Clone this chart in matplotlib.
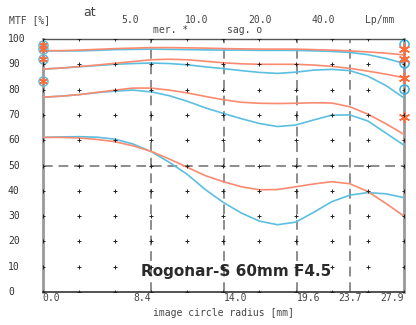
import matplotlib
matplotlib.use("Agg")
import matplotlib.pyplot as plt
import numpy as np

# image circle radius [mm]
radius = [0.0, 1.395, 2.79, 4.185, 5.58, 6.975, 8.37, 9.765, 11.16, 12.555, 13.95,
          15.345, 16.74, 18.135, 19.53, 20.925, 22.32, 23.715, 25.11, 26.505, 27.9]

# sagittal (orange) / meridional (cyan), 5 / 10 / 20 / 40 lp/mm
sag_5 = [95.4, 95.4, 95.6, 95.9, 96.2, 96.4, 96.6, 96.6, 96.5, 96.4, 96.2,
         96.1, 96.0, 96.0, 96.0, 95.8, 95.6, 95.3, 94.9, 94.4, 93.7]
mer_5 = [95.3, 95.3, 95.3, 95.5, 95.8, 95.9, 96.0, 95.9, 95.8, 95.7, 95.6,
         95.6, 95.5, 95.5, 95.5, 95.3, 95.1, 94.7, 93.8, 92.3, 90.4]
sag_10 = [88.1, 88.5, 89.1, 89.7, 90.4, 91.1, 91.8, 92.0, 91.8, 91.2, 90.6,
          90.2, 90.0, 90.0, 90.0, 89.7, 89.2, 88.4, 87.3, 86.1, 84.7]
mer_10 = [88.1, 88.5, 89.0, 89.5, 90.0, 90.3, 90.5, 90.3, 89.8, 89.0, 88.3,
          87.5, 86.8, 86.4, 86.9, 87.7, 88.0, 87.5, 85.3, 81.6, 76.7]
sag_20 = [77.0, 77.4, 78.0, 78.9, 79.8, 80.6, 80.6, 79.8, 78.7, 77.3, 76.0,
          75.0, 74.6, 74.5, 74.6, 74.8, 74.7, 73.2, 70.3, 66.5, 62.3]
mer_20 = [77.0, 77.4, 78.0, 78.8, 79.4, 79.8, 79.1, 77.6, 75.4, 72.8, 70.6,
          68.5, 66.6, 65.4, 66.0, 68.0, 69.9, 70.0, 67.6, 62.8, 58.0]
sag_40 = [61.1, 61.1, 60.9, 60.3, 59.4, 57.8, 55.6, 52.6, 49.3, 46.0, 43.6,
          41.6, 40.4, 40.5, 41.6, 42.7, 43.6, 42.8, 39.7, 35.0, 30.0]
mer_40 = [61.1, 61.3, 61.4, 61.2, 60.4, 58.5, 55.5, 51.3, 46.5, 40.5, 35.4,
          31.2, 28.0, 26.6, 27.6, 31.5, 35.7, 38.3, 39.3, 38.8, 37.3]

# markers on the edges
left_marks = [97.6, 96.0, 92.0, 83.5]
right_circles = [98.0, 90.5, 80.3]
right_stars = [96.2, 92.2, 84.6, 69.2]

special_r = [8.4, 14.0, 19.6, 23.7]
xlabels = ["0.0", "8.4", "14.0", "19.6", "23.7", "27.9"]
xlabel_pos = [0.0, 8.4, 14.0, 19.6, 23.7, 27.9]
ylabels = ["100", "90", "80", "70", "60", "50", "40", "30", "20", "10", "0"]

orange = "#fa8a70"
cyan = "#5cbfe0"
gray = "#8c8c8c"
mono = "DejaVu Sans Mono"

fig = plt.figure(figsize=(4.16, 3.25), dpi=100)
ax = fig.add_axes([0.1026, 0.1015, 0.8686, 0.7785])
ax.set_xlim(0, 27.9)
ax.set_ylim(0, 100)

# + marks on the grid
gx, gy = np.meshgrid(np.linspace(0, 27.9, 11), np.arange(0, 101, 10))
ax.plot(gx.ravel(), gy.ravel(), '+', color='#222222', ms=3, mew=0.7, zorder=7)

for r in special_r:
    ax.axvline(r, color=gray, lw=1.4, dashes=(5, 3), zorder=1)
ax.axhline(50, color=gray, lw=1.4, dashes=(5, 3), zorder=1)

for s, m in [(sag_5, mer_5), (sag_10, mer_10), (sag_20, mer_20), (sag_40, mer_40)]:
    ax.plot(radius, m, color=cyan, lw=1.2, zorder=3)
    ax.plot(radius, s, color=orange, lw=1.2, zorder=3)

# edge markers
ax.plot([0] * len(left_marks), left_marks, 'o', mfc='none', mec=cyan, ms=6.5, mew=1.1,
        clip_on=False, zorder=4)
ax.plot([0] * len(left_marks), left_marks, marker=(6, 2, 0), ls='none', color='#ff6a3a',
        ms=6, mew=1.0, clip_on=False, zorder=5)
ax.plot([27.9] * len(right_circles), right_circles, 'o', mfc='none', mec='#3ab0dc', ms=6.5,
        mew=1.1, clip_on=False, zorder=4)
ax.plot([27.9] * len(right_stars), right_stars, marker=(6, 2, 0), ls='none', color='#ff6a3a',
        ms=8, mew=1.1, clip_on=False, zorder=5)

for side in ['left', 'right']:
    ax.spines[side].set_color('#999999')
    ax.spines[side].set_linewidth(2)
ax.spines['top'].set_color('#555555')
ax.spines['top'].set_linewidth(1)
ax.spines['bottom'].set_color('#444444')
ax.spines['bottom'].set_linewidth(1.3)

ax.set_xticks(xlabel_pos)
ax.set_xticklabels(xlabels, fontfamily=mono, fontsize=7, color='#444444')
for lab, ha in zip(ax.get_xticklabels(), ['left', 'right', 'left', 'left', 'center', 'right']):
    lab.set_ha(ha)
ax.tick_params(axis='x', length=0, pad=1)
ax.set_yticks([])

for i, lab in enumerate(ylabels):
    v = 100 - 10 * i
    ax.annotate(lab, xy=(0, v), xycoords=('figure fraction', 'data'), xytext=(8, 0),
                textcoords='offset pixels', ha='left', va='center', fontfamily=mono,
                fontsize=7, color='#333333', annotation_clip=False)

ax.set_xlabel("image circle radius [mm]", fontfamily=mono, fontsize=7, color='#444444',
              labelpad=3)

ax.text(0.535, 0.08, "Rogonar-S 60mm F4.5", transform=ax.transAxes, ha='center',
        va='center', fontsize=11, fontweight='bold', color='#2a2a2a', zorder=6)

def ftext(x, y, s, **kw):
    fig.text(x / 416, 1 - y / 325, s, ha='center', va='center', **kw)

top_style = dict(fontfamily=mono, fontsize=7, color='#444444')
ftext(30, 20, "MTF [%]", **top_style)
ftext(90, 12, "at", fontsize=9, color='#444444')
ftext(130, 20, "5.0", **top_style)
ftext(197, 20, "10.0", **top_style)
ftext(260, 20, "20.0", **top_style)
ftext(323, 20, "40.0", **top_style)
ftext(380, 20, "Lp/mm", **top_style)
ftext(171, 30, "mer. *", **top_style)
ftext(245, 30, "sag. o", **top_style)

fig.savefig("out.png", dpi=100)
